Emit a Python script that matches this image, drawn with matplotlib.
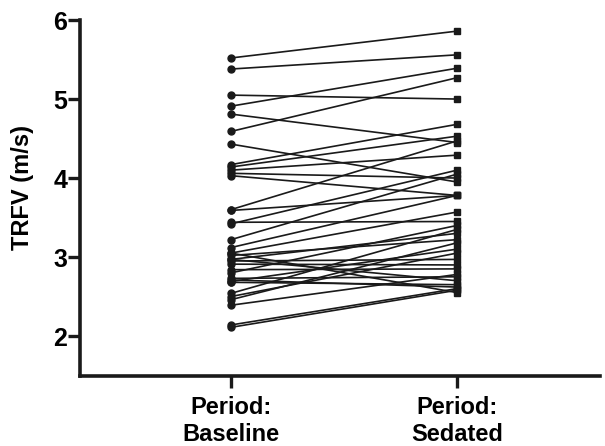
import matplotlib
matplotlib.use("Agg")
import matplotlib.pyplot as plt

plt.rcParams['font.family'] = ['Liberation Sans', 'DejaVu Sans']

conditions = ["Period:\nBaseline", "Period:\nSedated"]
baseline = [5.52, 5.38, 5.05, 4.91, 4.81, 4.59, 4.43, 4.17, 4.14, 4.10, 4.06, 4.03,
            3.60, 3.59, 3.44, 3.42, 3.22, 3.12, 3.05, 3.02, 2.97, 2.95, 2.91, 2.84,
            2.80, 2.73, 2.71, 2.69, 2.68, 2.54, 2.50, 2.46, 2.39, 2.14, 2.11, 2.97, 3.05]
sedated = [5.86, 5.56, 5.00, 5.39, 4.45, 5.27, 3.95, 4.68, 4.53, 4.29, 4.00, 3.78,
           4.47, 3.78, 3.45, 4.10, 4.05, 3.78, 3.57, 3.22, 3.30, 2.97, 2.90, 2.85,
           3.40, 2.75, 2.62, 3.10, 2.65, 3.35, 3.05, 3.18, 2.78, 2.60, 2.58, 2.70, 2.55]
yticks = [2, 3, 4, 5, 6]

fig = plt.figure(figsize=(6.05, 4.46), dpi=100)
ax = fig.add_axes([0.132, 0.158, 0.860, 0.797])

for b, s in zip(baseline, sedated):
    ax.plot([0, 1], [b, s], color='#1a1a1a', lw=1.2, zorder=2)
ax.plot([0] * len(baseline), baseline, 'o', color='#1a1a1a', ms=5, ls='none', zorder=3)
ax.plot([1] * len(sedated), sedated, 's', color='#1a1a1a', ms=5, ls='none', zorder=3)

ax.set_xlim(-0.668, 1.633)
ax.set_ylim(1.5, 6)
ax.set_yticks(yticks)
ax.set_yticklabels([str(t) for t in yticks], fontsize=18, fontweight='bold')
ax.set_xticks([0, 1])
ax.set_xticklabels(conditions, fontsize=17, fontweight='bold', linespacing=1.2)

for side in ['top', 'right']:
    ax.spines[side].set_visible(False)
for side in ['left', 'bottom']:
    ax.spines[side].set_linewidth(2.6)
    ax.spines[side].set_color('#1a1a1a')
ax.tick_params(axis='both', direction='out', length=8.5, width=2.4, color='#1a1a1a')
ax.tick_params(axis='y', pad=0.5)
ax.tick_params(axis='x', pad=6.5)

ax.set_ylabel("TRFV (m/s)", fontsize=17, fontweight='bold')
ax.yaxis.set_label_coords(-0.088, 0.53)

fig.savefig("out.png", dpi=100)
